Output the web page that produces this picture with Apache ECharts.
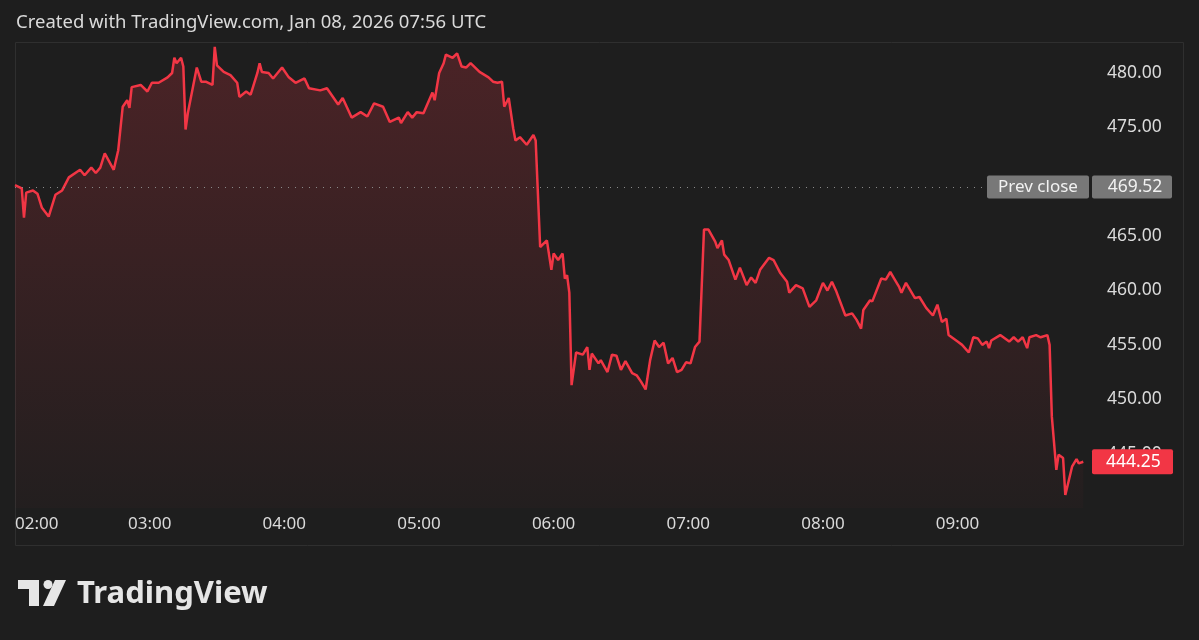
<!DOCTYPE html>
<html>
<head>
<meta charset="utf-8">
<title>TradingView chart</title>
<script src="https://cdn.jsdelivr.net/npm/echarts@6/dist/echarts.min.js"></script>
<style>
  html, body { margin: 0; padding: 0; background: #1e1e1e; }
  #chart { width: 1199px; height: 640px; }
</style>
</head>
<body>
<div id="chart"></div>
<script>
// minutes after 02:00 and the price read at that minute
const minutes = [0, 3, 4, 5, 8, 10, 12, 15, 18, 21, 24, 29, 31, 34, 36, 38, 40, 44, 46, 48,
  50, 51, 52, 56, 59, 61, 64, 68, 70, 71, 72, 74, 75, 76, 77, 81, 83, 85, 88, 89,
  90, 93, 96, 99, 100, 103, 105, 108, 109, 110, 113, 115, 119, 122, 125, 129, 131, 136, 139, 144,
  146, 150, 154, 157, 160, 164, 167, 171, 172, 175, 177, 179, 182, 186, 187, 189, 191, 192, 195, 197,
  199, 201, 203, 207, 211, 213, 215, 217, 218, 220, 222, 223, 225, 228, 231, 232, 234, 237, 239, 240,
  242, 244, 245, 246, 247, 248, 250, 253, 255, 256, 257, 260, 261, 264, 266, 268, 270, 272, 275, 277,
  279, 281, 283, 285, 287, 289, 291, 293, 295, 297, 299, 301, 303, 305, 307, 309, 312, 313, 315, 316,
  318, 321, 323, 326, 328, 330, 332, 336, 338, 341, 344, 345, 348, 351, 354, 357, 360, 362, 364, 366,
  370, 373, 375, 377, 378, 381, 382, 386, 388, 390, 392, 394, 395, 397, 401, 403, 406, 409, 411, 413,
  415, 416, 418, 420, 422, 425, 427, 429, 431, 433, 434, 435, 439, 441, 443, 445, 447, 449, 451, 452,
  455, 457, 460, 461, 462, 464, 465, 467, 468, 471, 473, 474, 476]
const prices = [469.7, 469.4, 466.7, 469.0, 469.2, 468.9, 467.6, 466.8, 468.8, 469.2, 470.4, 471.1, 470.6, 471.3, 470.8, 471.3, 472.6, 471.1, 472.9, 476.9,
  477.5, 476.8, 478.7, 478.9, 478.3, 479.1, 479.1, 479.6, 480.0, 481.4, 480.9, 481.4, 480.6, 474.8, 476.3, 480.5, 479.2, 479.2, 478.9, 482.4,
  480.7, 480.1, 479.8, 479.1, 477.8, 478.3, 478.0, 480.0, 480.9, 480.1, 480.0, 479.5, 480.5, 479.6, 479.1, 479.5, 478.6, 478.4, 478.6, 477.1,
  477.7, 475.9, 476.4, 476.0, 477.2, 476.9, 475.5, 475.9, 475.4, 476.4, 475.9, 476.4, 476.3, 478.2, 477.5, 480.0, 480.9, 481.7, 481.4, 481.8,
  480.6, 480.5, 480.9, 480.1, 479.6, 479.2, 479.1, 479.2, 476.9, 477.7, 474.9, 473.8, 474.1, 473.4, 474.3, 473.8, 464.0, 464.6, 461.9, 463.4,
  462.8, 463.4, 461.1, 461.4, 459.8, 451.3, 454.3, 454.1, 454.8, 452.7, 454.2, 453.3, 453.6, 452.5, 454.1, 454.0, 452.7, 453.5, 452.4, 452.2,
  451.6, 450.9, 453.6, 455.4, 454.8, 455.2, 453.3, 453.8, 452.5, 452.7, 453.4, 453.3, 454.8, 455.3, 465.6, 465.6, 464.5, 463.9, 464.6, 463.3,
  462.8, 461.0, 462.1, 460.5, 461.2, 460.7, 461.9, 463.0, 462.8, 461.6, 460.8, 459.8, 460.5, 460.2, 458.5, 459.1, 460.7, 460.0, 460.8, 459.9,
  457.7, 457.9, 457.3, 456.5, 458.2, 459.1, 459.0, 461.1, 461.0, 461.7, 461.0, 460.3, 459.8, 460.7, 459.3, 459.4, 458.4, 457.7, 458.7, 457.1,
  457.4, 455.9, 455.6, 455.3, 455.0, 454.3, 455.7, 455.6, 455.0, 455.3, 454.7, 455.4, 455.9, 455.6, 455.3, 455.7, 455.3, 455.7, 454.7, 455.7,
  455.9, 455.7, 455.9, 455.0, 448.4, 443.5, 444.9, 444.6, 441.2, 443.8, 444.5, 444.1, 444.25]
const timeLabels = ['02:00', '03:00', '04:00', '05:00', '06:00', '07:00', '08:00', '09:00']
// 470.00 sits under the prev close tag, so it is not listed
const priceTicks = [445, 450, 455, 460, 465, 475, 480]
const prevClose = 469.52
const lastPrice = prices[prices.length - 1]

const FONT = 'Noto Sans'
const RED = '#f23645'

const chart = echarts.init(document.getElementById('chart'))

const option = {
  backgroundColor: '#1e1e1e',
  animation: false,
  textStyle: { fontFamily: FONT },
  grid: { left: 15, right: 109, top: 42, bottom: 132 },
  xAxis: {
    type: 'value',
    min: 0,
    max: 479,
    interval: 60,
    axisLine: { show: false },
    axisTick: { show: false },
    splitLine: { show: false },
    axisLabel: {
      color: '#dadada',
      fontSize: 17,
      fontFamily: FONT,
      margin: 8,
      alignMinLabel: 'left',
      showMaxLabel: false,
      formatter: (v) => timeLabels[Math.round(v / 60)] || ''
    }
  },
  yAxis: {
    type: 'value',
    position: 'right',
    min: 440,
    max: 482.85,
    interval: 5,
    axisLine: { show: false },
    axisTick: { show: false },
    splitLine: { show: false },
    axisLabel: {
      color: '#dadada',
      fontSize: 17.5,
      fontFamily: FONT,
      margin: 17,
      showMinLabel: false,
      showMaxLabel: false,
      formatter: (v) => priceTicks.indexOf(v) >= 0 ? v.toFixed(2) : ''
    }
  },
  series: [
    {
      type: 'line',
      data: minutes.map((m, i) => [m, prices[i]]),
      showSymbol: false,
      symbol: 'none',
      lineStyle: { color: RED, width: 2.5 },
      areaStyle: {
        origin: 'start',
        color: new echarts.graphic.LinearGradient(0, 0, 0, 1, [
          { offset: 0, color: 'rgba(242,54,69,0.3)' },
          { offset: 1, color: 'rgba(242,54,69,0.03)' }
        ])
      },
      z: 3,
      markLine: {
        silent: true,
        symbol: ['none', 'none'],
        z: 10,
        data: [
          {
            yAxis: prevClose,
            lineStyle: { color: '#8a8a8a', width: 1, type: [1, 6] },
            label: {
              show: true,
              position: 'end',
              distance: [-103, 0],
              formatter: '{a|Prev close}{g|}{b|' + prevClose.toFixed(2) + '}',
              rich: {
                a: { backgroundColor: '#787878', color: '#f2f2f2', fontSize: 17, fontFamily: FONT,
                  width: 86, height: 17, padding: [3, 8], align: 'center', borderRadius: 2 },
                g: { width: 3 },
                b: { backgroundColor: '#787878', color: '#f2f2f2', fontSize: 17.5, fontFamily: FONT,
                  width: 58, height: 17, padding: [3, 8, 3, 14], align: 'left', borderRadius: 2 }
              }
            }
          },
          {
            yAxis: lastPrice,
            lineStyle: { color: 'rgba(0,0,0,0)', width: 1, type: 'solid' },
            label: {
              show: true,
              position: 'end',
              distance: 2,
              formatter: '{b|' + lastPrice.toFixed(2) + '}',
              rich: {
                b: { backgroundColor: RED, color: '#ffffff', fontSize: 17.5, fontFamily: FONT,
                  width: 58, height: 19, padding: [3, 9, 3, 14], align: 'left', borderRadius: 2 }
              }
            }
          }
        ]
      }
    }
  ],
  graphic: [
    {
      type: 'text',
      left: 16,
      top: 13,
      style: { text: 'Created with TradingView.com, Jan 08, 2026 07:56 UTC', fill: '#dadada', font: '18.5px "Noto Sans"' }
    },
    {
      type: 'rect',
      shape: { x: 15.5, y: 42.5, width: 1168, height: 503 },
      style: { fill: 'none', stroke: '#2f2f2f', lineWidth: 1 },
      silent: true
    },
    // TradingView logo
    {
      type: 'group',
      left: 18,
      top: 580,
      children: [
        { type: 'polygon', shape: { points: [[0, 0], [21, 0], [21, 26], [11, 26], [11, 9], [0, 9]] }, style: { fill: '#e6e6e6' } },
        { type: 'circle', shape: { cx: 30, cy: 4.5, r: 4.5 }, style: { fill: '#e6e6e6' } },
        { type: 'polygon', shape: { points: [[37, 0], [48, 0], [36, 26], [25, 26]] }, style: { fill: '#e6e6e6' } }
      ]
    },
    {
      type: 'text',
      left: 77,
      top: 579,
      style: { text: 'TradingView', fill: '#e6e6e6', font: 'bold 31px "Noto Sans"' }
    }
  ]
}

chart.setOption(option)
</script>
</body>
</html>
